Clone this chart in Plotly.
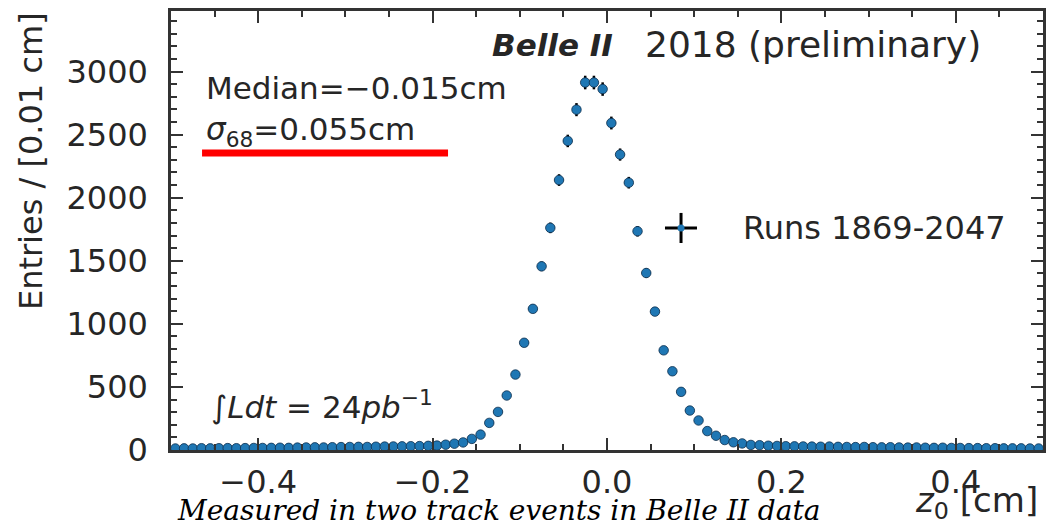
import numpy as np
import plotly.graph_objects as go

# ---- data: bin centres (0.01 cm bins) and entries ----
bin_width = 0.01
bin_centers = [round(-0.495 + i * bin_width, 3) for i in range(100)]

left_tail = [12, 13, 12, 14, 13, 14, 15, 14, 15, 16, 16, 17, 18, 17, 19, 20, 21, 20, 22, 23,
             24, 25, 24, 26, 27, 28, 29, 30, 31, 33]
core = [35, 42, 50, 60, 88, 122, 215, 302, 432, 598, 850, 1119, 1456, 1761, 2140, 2450, 2698,
        2913, 2913, 2861, 2592, 2342, 2119, 1734, 1403, 1097, 790, 624, 461, 313, 234, 150,
        113, 79, 61, 52, 40, 38]
right_tail = [34, 32, 30, 29, 28, 27, 26, 27, 25, 24, 23, 24, 22, 21, 22, 20, 19, 20, 18, 17,
              18, 16, 16, 15, 15, 14, 14, 13, 13, 13, 12, 12]
entries = left_tail + core + right_tail

x_tick_vals = [-0.4, -0.2, 0.0, 0.2, 0.4]
x_tick_text = ["\u22120.4", "\u22120.2", "0.0", "0.2", "0.4"]
y_tick_vals = [0, 500, 1000, 1500, 2000, 2500, 3000]

errors_y = list(np.sqrt(np.array(entries, dtype=float)))
errors_x = [bin_width / 2] * len(bin_centers)

TXT = "#262626"
FONT = "DejaVu Sans"

fig = go.Figure()
fig.add_trace(go.Scatter(
    x=bin_centers, y=entries, mode="markers",
    marker=dict(color="#1f77b4", size=9.5, line=dict(color="#0e2f4d", width=0.8)),
    error_y=dict(type="data", array=errors_y, color="black", thickness=2.5, width=0),
    error_x=dict(type="data", array=errors_x, color="black", thickness=2.5, width=0),
    showlegend=False,
))

axis_common = dict(
    showgrid=False, zeroline=False, showline=True, linecolor="#333333", linewidth=2.5,
    mirror="ticks", ticks="inside", tickcolor="#333333", tickwidth=2, ticklen=12,
    tickfont=dict(family=FONT, size=32, color=TXT), automargin=False,
)

fig.update_xaxes(range=[-0.5, 0.5], tickvals=x_tick_vals, ticktext=x_tick_text,
                 ticklabelstandoff=2,
                 minor=dict(ticks="inside", ticklen=6, dtick=0.05, tick0=0,
                            tickcolor="#333333", tickwidth=1.5),
                 **axis_common)
fig.update_yaxes(range=[0, 3480], tickvals=y_tick_vals,
                 ticklabelstandoff=14,
                 minor=dict(ticks="inside", ticklen=6, dtick=100, tick0=0,
                            tickcolor="#333333", tickwidth=1.5),
                 **axis_common)

ann = []
ann.append(dict(text="Entries / [0.01 cm]", textangle=-90, xref="paper", yref="paper",
                x=-0.1606, y=1.002, xanchor="center", yanchor="top", showarrow=False,
                font=dict(family=FONT, size=32, color=TXT)))
ann.append(dict(text="Median=\u22120.015cm", xref="paper", yref="paper", x=0.038, y=0.8246,
                xanchor="left", yanchor="middle", showarrow=False,
                font=dict(family=FONT, size=31, color=TXT)))
ann.append(dict(text="<i>\u03c3</i><sub>68</sub>=0.055cm", xref="paper", yref="paper",
                x=0.038, y=0.7244, xanchor="left", yanchor="middle", showarrow=False,
                font=dict(family=FONT, size=31, color=TXT)))
ann.append(dict(text="\u222b<i>Ldt</i> = 24<i>pb</i><sup>\u22121</sup>", xref="paper", yref="paper",
                x=0.044, y=0.1025, xanchor="left", yanchor="middle", showarrow=False,
                font=dict(family=FONT, size=31, color=TXT)))
ann.append(dict(text="<b><i>Belle II</i></b>", xref="paper", yref="paper",
                x=0.509, y=0.9226, xanchor="right", yanchor="middle", showarrow=False,
                font=dict(family=FONT, size=31, color=TXT)))
ann.append(dict(text="2018 (preliminary)", xref="paper", yref="paper",
                x=0.7366, y=0.9226, xanchor="center", yanchor="middle", showarrow=False,
                font=dict(family=FONT, size=36, color=TXT)))
ann.append(dict(text="Runs 1869-2047", xref="paper", yref="paper", x=0.6537, y=0.5057,
                xanchor="left", yanchor="middle", showarrow=False,
                font=dict(family=FONT, size=32, color=TXT)))
ann.append(dict(text="<i>z</i><sub>0</sub> [cm]", xref="paper", yref="paper", x=0.9966, y=-0.175,
                xanchor="right", yanchor="bottom", showarrow=False,
                font=dict(family=FONT, size=34, color=TXT)))
ann.append(dict(text="Measured in two track events in Belle II data", xref="paper", yref="paper",
                x=0.005, y=-0.179, xanchor="left", yanchor="bottom", showarrow=False,
                font=dict(family="DejaVu Serif", size=28, color="black", style="italic")))

shapes = [
    dict(type="line", xref="paper", yref="paper", x0=0.0356, x1=0.3177, y0=0.6765, y1=0.6765,
         line=dict(color="#ff0000", width=7)),
    dict(type="line", xref="paper", yref="paper", x0=0.5665, x1=0.6032, y0=0.5057, y1=0.5057,
         line=dict(color="black", width=3)),
    dict(type="line", xref="paper", yref="paper", x0=0.5849, x1=0.5849, y0=0.540, y1=0.4715,
         line=dict(color="black", width=3)),
    dict(type="circle", xref="paper", yref="paper", xsizemode="pixel", ysizemode="pixel",
         xanchor=0.5849, yanchor=0.5057, x0=-3.5, x1=3.5, y0=-3.5, y1=3.5,
         fillcolor="#1f77b4", line=dict(width=0)),
]

fig.update_layout(
    width=1049, height=527,
    margin=dict(l=171, r=6, t=11, b=77, autoexpand=False),
    paper_bgcolor="white", plot_bgcolor="white",
    annotations=ann, shapes=shapes, showlegend=False,
)

fig.write_html("out.html", config={"displayModeBar": False},
               post_script="document.body.style.margin='0px';document.body.style.overflow='hidden';")
